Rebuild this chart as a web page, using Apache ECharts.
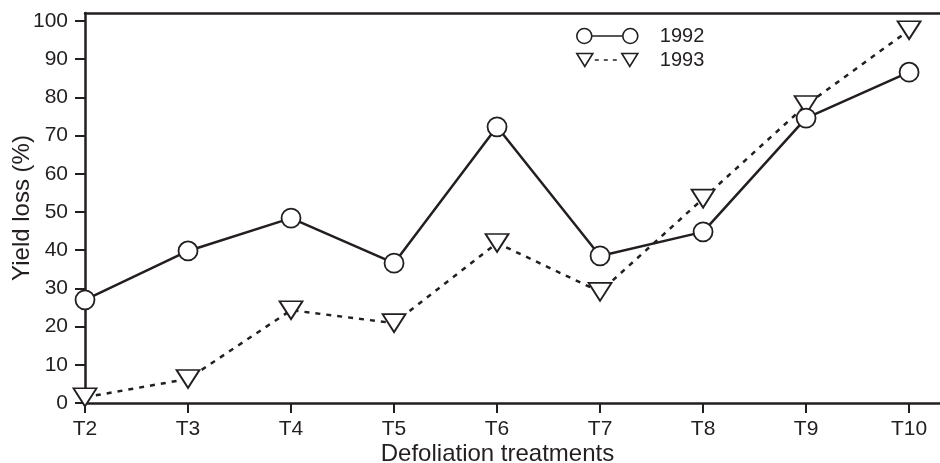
<!DOCTYPE html>
<html>
<head>
<meta charset="utf-8">
<script src="https://cdn.jsdelivr.net/npm/echarts@6/dist/echarts.min.js"></script>
<style>
  html, body { margin: 0; padding: 0; background: #fff; }
  #chart { width: 940px; height: 463px; }
</style>
</head>
<body>
<div id="chart"></div>
<script>
// treatments on the x axis
var treatments = ['T2', 'T3', 'T4', 'T5', 'T6', 'T7', 'T8', 'T9', 'T10'];
var treatmentNums = [2, 3, 4, 5, 6, 7, 8, 9, 10];
// yield loss (%)
var loss1992 = [27, 39.8, 48.4, 36.6, 72.3, 38.5, 44.8, 74.6, 86.6];
var loss1993 = [1.5, 6.3, 24.3, 20.9, 41.9, 29.1, 53.5, 78, 97.6];
var yTicks = [0, 10, 20, 30, 40, 50, 60, 70, 80, 90, 100];

var ink = '#231f20';
var font = '"Liberation Sans", Arial, sans-serif';

function pairs(vals) {
  var out = [];
  for (var i = 0; i < vals.length; i++) {
    out.push([treatmentNums[i], vals[i]]);
  }
  return out;
}

var chart = echarts.init(document.getElementById('chart'));
var option = {
  animation: false,
  backgroundColor: '#fff',
  grid: { left: 85, right: 0, top: 13, bottom: 60, outerBoundsMode: 'none', containLabel: false },
  legend: {
    left: 571,
    top: 21,
    orient: 'vertical',
    itemWidth: 61,
    itemHeight: 15,
    itemGap: 4,
    textStyle: { color: ink, fontSize: 20, fontFamily: font, padding: [0, 0, 0, 17] },
    data: [
      {
        name: '1992',
        icon: 'path://M0,7.5a7.5,7.5 0 1,0 15,0a7.5,7.5 0 1,0 -15,0M15,7.5L46,7.5M46,7.5a7.5,7.5 0 1,0 15,0a7.5,7.5 0 1,0 -15,0',
        itemStyle: { color: 'transparent', borderColor: ink, borderWidth: 1.6 }
      },
      {
        name: '1993',
        icon: 'path://M0,1L16,1L8,14ZM18,7.5L22,7.5M27,7.5L31,7.5M36,7.5L40,7.5M45,1L61,1L53,14Z',
        itemStyle: { color: 'transparent', borderColor: ink, borderWidth: 1.6 }
      }
    ]
  },
  xAxis: [
    {
      type: 'value',
      min: 2,
      max: 10.3,
      interval: 1,
      name: 'Defoliation treatments',
      nameLocation: 'middle',
      nameGap: 39,
      nameMoveOverlap: false,
      nameTextStyle: { color: ink, fontSize: 24, fontFamily: font, padding: [0, 30, 0, 0] },
      axisLine: { lineStyle: { color: ink, width: 2.5 } },
      axisTick: { show: true, customValues: treatmentNums, length: 10, lineStyle: { color: ink, width: 2 } },
      axisLabel: {
        customValues: treatmentNums,
        margin: 16,
        color: ink,
        fontSize: 21,
        fontFamily: font,
        formatter: function (v) { return treatments[treatmentNums.indexOf(v)] || ''; }
      },
      splitLine: { show: false }
    },
    {
      type: 'value',
      position: 'top',
      min: 2,
      max: 10.3,
      axisLine: { show: true, lineStyle: { color: ink, width: 2.5 } },
      axisTick: { show: false },
      axisLabel: { show: false },
      splitLine: { show: false }
    }
  ],
  yAxis: {
    type: 'value',
    min: 0,
    max: 102.1,
    name: 'Yield loss (%)',
    nameLocation: 'middle',
    nameGap: 51,
    nameMoveOverlap: false,
    nameTextStyle: { color: ink, fontSize: 24, fontFamily: font },
    axisLine: { show: true, lineStyle: { color: ink, width: 2.5 } },
    axisTick: { show: true, customValues: yTicks, length: 10, lineStyle: { color: ink, width: 2 } },
    axisLabel: { customValues: yTicks, margin: 17, color: ink, fontSize: 21, fontFamily: font },
    splitLine: { show: false }
  },
  series: [
    {
      name: '1992',
      type: 'line',
      data: pairs(loss1992),
      symbol: 'circle',
      symbolSize: 19,
      lineStyle: { color: ink, width: 2.5 },
      itemStyle: { color: '#fff', borderColor: ink, borderWidth: 1.8 },
      z: 3
    },
    {
      name: '1993',
      type: 'line',
      data: pairs(loss1993),
      symbol: 'triangle',
      symbolRotate: 180,
      symbolSize: [23, 18],
      lineStyle: { color: ink, width: 2.5, type: [5, 6] },
      itemStyle: { color: '#fff', borderColor: ink, borderWidth: 1.8 },
      z: 2
    }
  ]
};
chart.setOption(option);
</script>
</body>
</html>
